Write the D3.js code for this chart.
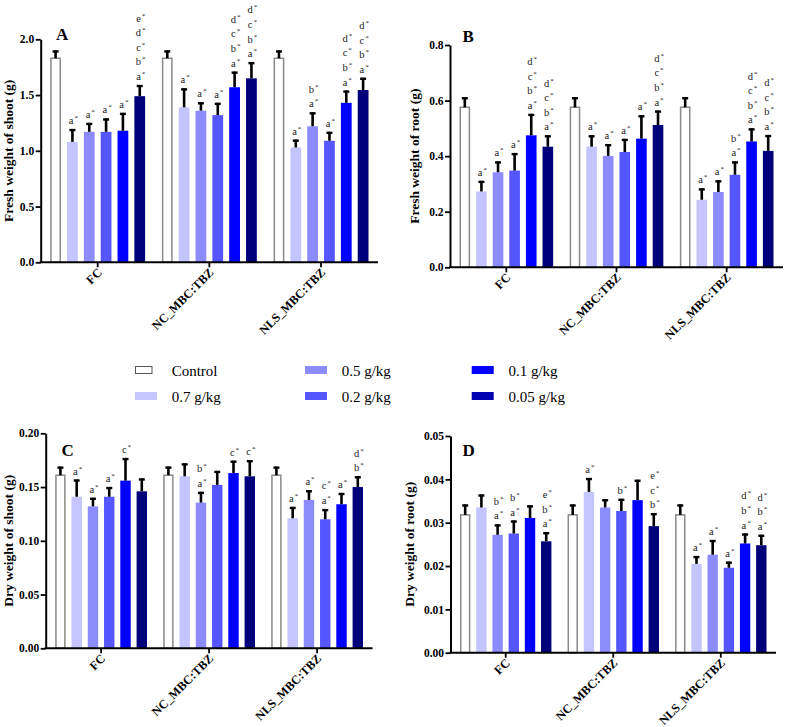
<!DOCTYPE html>
<html><head><meta charset="utf-8">
<script src="https://cdn.jsdelivr.net/npm/d3@7"></script>
<style>
body{margin:0;background:#fff}
svg{display:block}
text{font-family:"Liberation Serif","Times New Roman",serif}
</style>
</head><body>
<svg id="chart" width="787" height="727" font-family="Liberation Serif, Times New Roman, serif"></svg>
<script>
// ---------------- data ----------------
const groups = ["FC", "NC_MBC:TBZ", "NLS_MBC:TBZ"];
const series = ["Control", "0.7 g/kg", "0.5 g/kg", "0.2 g/kg", "0.1 g/kg", "0.05 g/kg"];

// Panel A: fresh weight of shoot (g)
const freshShootMean = [
  [1.83, 1.08, 1.17, 1.17, 1.18, 1.49],
  [1.83, 1.39, 1.36, 1.32, 1.57, 1.65],
  [1.83, 1.03, 1.22, 1.09, 1.43, 1.545]
];
const freshShootErr = [
  [0.07, 0.115, 0.08, 0.12, 0.16, 0.10],
  [0.07, 0.17, 0.075, 0.11, 0.14, 0.145],
  [0.07, 0.07, 0.125, 0.08, 0.11, 0.11]
];
const freshShootLetters = [
  ["", "a", "a", "a", "a", "abcde"],
  ["", "a", "a", "a", "abcd", "abcd"],
  ["", "a", "ab", "a", "abcd", "abcd"]
];

// Panel B: fresh weight of root (g)
const freshRootMean = [
  [0.576, 0.273, 0.342, 0.348, 0.475, 0.434],
  [0.576, 0.434, 0.401, 0.415, 0.463, 0.512],
  [0.576, 0.243, 0.271, 0.333, 0.453, 0.419]
];
const freshRootErr = [
  [0.036, 0.038, 0.039, 0.063, 0.077, 0.041],
  [0.036, 0.041, 0.042, 0.047, 0.084, 0.052],
  [0.036, 0.041, 0.042, 0.048, 0.047, 0.057]
];
const freshRootLetters = [
  ["", "a", "a", "a", "abcd", "abcd"],
  ["", "a", "a", "a", "a", "abcd"],
  ["", "a", "a", "ab", "abcd", "abcd"]
];

// Panel C: dry weight of shoot (g)
const dryShootMean = [
  [0.161, 0.141, 0.132, 0.141, 0.156, 0.146],
  [0.161, 0.160, 0.1355, 0.152, 0.163, 0.160],
  [0.161, 0.121, 0.138, 0.120, 0.134, 0.150]
];
const dryShootErr = [
  [0.008, 0.016, 0.008, 0.009, 0.021, 0.012],
  [0.008, 0.012, 0.010, 0.013, 0.0115, 0.015],
  [0.008, 0.0105, 0.009, 0.0095, 0.0105, 0.010]
];
const dryShootLetters = [
  ["", "a", "a", "a", "c", ""],
  ["", "", "ab", "", "c", "c"],
  ["", "a", "a", "ac", "a", "bd"]
];

// Panel D: dry weight of root (g)
const dryRootMean = [
  [0.0318, 0.0335, 0.0272, 0.0275, 0.0311, 0.0257],
  [0.0318, 0.0371, 0.0335, 0.0327, 0.0352, 0.0292],
  [0.0318, 0.0205, 0.0226, 0.0196, 0.0252, 0.0248]
];
const dryRootErr = [
  [0.0024, 0.003, 0.0024, 0.003, 0.0029, 0.0021],
  [0.0024, 0.0032, 0.0019, 0.0028, 0.0047, 0.003],
  [0.0024, 0.0018, 0.0034, 0.0014, 0.0023, 0.0024]
];
const dryRootLetters = [
  ["", "", "ab", "ab", "", "abe"],
  ["", "a", "", "b", "", "bce"],
  ["", "a", "a", "a", "abd", "abd"]
];

const ticksA = [0, 0.5, 1.0, 1.5, 2.0];
const tickLabelsA = ["0.0", "0.5", "1.0", "1.5", "2.0"];
const ticksB = [0, 0.2, 0.4, 0.6, 0.8];
const tickLabelsB = ["0.0", "0.2", "0.4", "0.6", "0.8"];
const ticksC = [0, 0.05, 0.10, 0.15, 0.20];
const tickLabelsC = ["0.00", "0.05", "0.10", "0.15", "0.20"];
const ticksD = [0, 0.01, 0.02, 0.03, 0.04, 0.05];
const tickLabelsD = ["0.00", "0.01", "0.02", "0.03", "0.04", "0.05"];

const panelLetters = ["A", "B", "C", "D"];
const yTitles = ["Fresh weight of shoot (g)", "Fresh weight of root (g)", "Dry weight of shoot (g)", "Dry weight of root (g)"];

// ---------------- styles / layout ----------------
const barColors = ["#ffffff", "#c4c4ff", "#8c8cff", "#5656ff", "#0000ff", "#00007a"];
const swatchColors = ["#ffffff", "#c4c4ff", "#8c8cff", "#5656ff", "#0000ff", "#0000b0"];
const FONT = "'Liberation Serif','Times New Roman',serif";

const svg = d3.select("#chart");

const panels = [
  {mean: freshShootMean, err: freshShootErr, letters: freshShootLetters, ticks: ticksA, labels: tickLabelsA,
   left: 40.7, right: 378, top: 39.3, bottom: 262.3, titleX: 13, letterPos: [56, 40]},
  {mean: freshRootMean, err: freshRootErr, letters: freshRootLetters, ticks: ticksB, labels: tickLabelsB,
   left: 450, right: 783, top: 45, bottom: 267.3, titleX: 419, letterPos: [462.5, 41.7]},
  {mean: dryShootMean, err: dryShootErr, letters: dryShootLetters, ticks: ticksC, labels: tickLabelsC,
   left: 45.7, right: 372.5, top: 433.3, bottom: 648.3, titleX: 13, letterPos: [61.5, 455.7]},
  {mean: dryRootMean, err: dryRootErr, letters: dryRootLetters, ticks: ticksD, labels: tickLabelsD,
   left: 450.5, right: 776, top: 436, bottom: 652.7, titleX: 414, letterPos: [462.5, 455.7]}
];

panels.forEach((p, pi) => {
  const g = svg.append("g");
  const ymax = p.ticks[p.ticks.length - 1];
  const y = d3.scaleLinear().domain([0, ymax]).range([p.bottom, p.top]);
  const x0 = d3.scaleBand().domain(groups).range([p.left + 9.5, p.right - 9.5]).paddingInner(0.15).paddingOuter(0);
  const x1 = d3.scaleBand().domain(series).range([0, x0.bandwidth()]).paddingInner(0.36).paddingOuter(0);

  const data = [];
  groups.forEach((gr, gi) => series.forEach((s, si) => {
    data.push({g: gr, s: s, si: si, v: p.mean[gi][si], e: p.err[gi][si], l: p.letters[gi][si]});
  }));

  // bars
  g.selectAll("rect.bar").data(data).enter().append("rect")
    .attr("x", d => x0(d.g) + x1(d.s) + (d.si === 0 ? 0.75 : 0))
    .attr("width", d => x1.bandwidth() - (d.si === 0 ? 1.5 : 0))
    .attr("y", d => y(d.v))
    .attr("height", d => y(0) - y(d.v))
    .attr("fill", d => barColors[d.si])
    .attr("stroke", d => d.si === 0 ? "#8a8a8a" : "none")
    .attr("stroke-width", 1.5);

  // error bars
  const cx = d => x0(d.g) + x1(d.s) + x1.bandwidth() / 2;
  g.selectAll("line.err").data(data).enter().append("line")
    .attr("x1", cx).attr("x2", cx)
    .attr("y1", d => y(d.v)).attr("y2", d => y(d.v + d.e))
    .attr("stroke", "#000").attr("stroke-width", 2.6);
  g.selectAll("line.cap").data(data).enter().append("line")
    .attr("x1", d => cx(d) - 3).attr("x2", d => cx(d) + 3)
    .attr("y1", d => y(d.v + d.e) + 1).attr("y2", d => y(d.v + d.e) + 1)
    .attr("stroke", "#000").attr("stroke-width", 2.4);

  // significance letters
  data.forEach(d => {
    d.l.split("").forEach((ch, k) => {
      const t = g.append("text")
        .attr("x", cx(d) + 1)
        .attr("y", y(d.v + d.e) - 5 - k * 14.6)
        .attr("text-anchor", "middle")
        .attr("font-size", 10.5)
        .attr("fill", "#222");
      t.append("tspan").text(ch);
      t.append("tspan").attr("font-size", 7).attr("dy", -4).attr("dx", 1).text("*");
    });
  });

  // y axis
  const yAxis = d3.axisLeft(y).tickValues(p.ticks).tickFormat((d, i) => p.labels[i]).tickSize(5).tickSizeOuter(0).tickPadding(1.5);
  const ya = g.append("g").attr("transform", `translate(${p.left},0)`).call(yAxis).attr("font-family", FONT);
  ya.select(".domain").attr("stroke", "#000").attr("stroke-width", 2);
  ya.selectAll(".tick line").attr("stroke", "#000").attr("stroke-width", 1.8);
  ya.selectAll(".tick text").attr("font-size", 11.5).attr("font-weight", "bold").attr("fill", "#000");

  // x axis
  const xa = g.append("g").attr("transform", `translate(0,${p.bottom})`);
  xa.append("line").attr("x1", p.left - 1).attr("x2", p.right).attr("y1", 0).attr("y2", 0)
    .attr("stroke", "#000").attr("stroke-width", 2);
  groups.forEach(gr => {
    const c = x0(gr) + x0.bandwidth() / 2;
    xa.append("line").attr("x1", c).attr("x2", c).attr("y1", 0).attr("y2", 5)
      .attr("stroke", "#000").attr("stroke-width", 1.8);
    xa.append("text")
      .attr("transform", `translate(${c + 5},${11}) rotate(-45)`)
      .attr("text-anchor", "end")
      .attr("font-size", 12.3).attr("font-weight", "bold").attr("fill", "#000")
      .text(gr);
  });

  // y title
  g.append("text")
    .attr("transform", `translate(${p.titleX},${(p.top + p.bottom) / 2}) rotate(-90)`)
    .attr("text-anchor", "middle")
    .attr("font-size", 13.5).attr("font-weight", "bold").attr("fill", "#000")
    .text(yTitles[pi]);

  // panel letter
  g.append("text").attr("x", p.letterPos[0]).attr("y", p.letterPos[1])
    .attr("font-size", 17).attr("font-weight", "bold").attr("fill", "#000")
    .text(panelLetters[pi]);
});

// ---------------- legend ----------------
const legCols = [135, 305, 471.7];
const legRows = [370, 396];
const leg = svg.append("g");
series.forEach((s, i) => {
  const col = Math.floor(i / 2), row = i % 2;
  const bx = legCols[col], cy = legRows[row];
  if (i === 0) {
    leg.append("rect").attr("x", bx + 0.5).attr("y", cy - 3.5).attr("width", 16.5).attr("height", 7)
      .attr("fill", "#fff").attr("stroke", "#555").attr("stroke-width", 1);
  } else {
    leg.append("rect").attr("x", bx).attr("y", cy - 4).attr("width", 22).attr("height", 8)
      .attr("fill", swatchColors[i]);
  }
  leg.append("text").attr("x", bx + 36.7).attr("y", cy + 5.5)
    .attr("font-size", 15).attr("fill", "#000").text(s);
});
</script>
</body></html>
